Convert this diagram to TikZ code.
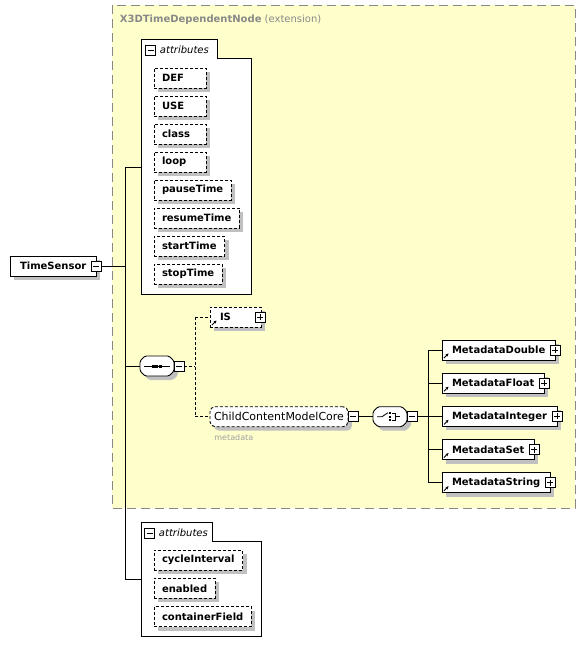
\documentclass[tikz,border=0pt]{standalone}
\usepackage{fontspec}
\setmainfont{DejaVu Sans}
\usetikzlibrary{positioning,shadows,arrows.meta}
\definecolor{extfill}{RGB}{255,255,204}
\definecolor{extline}{RGB}{136,136,136}
\definecolor{shade}{RGB}{192,192,192}
\definecolor{notegray}{RGB}{160,160,160}
% octagon outline round a model group node
\newcommand{\drawmodel}[1]{\draw[draw=black,fill=white,shadowed,rounded corners=1.5pt]
  ([xshift=5pt]#1.north west) -- ([xshift=-5pt]#1.north east) -- ([yshift=-5pt]#1.north east)
  -- ([yshift=5pt]#1.south east) -- ([xshift=-5pt]#1.south east) -- ([xshift=5pt]#1.south west)
  -- ([yshift=5pt]#1.south west) -- ([yshift=-5pt]#1.north west) -- cycle;}

\begin{document}
\begin{tikzpicture}[x=1pt,y=-1pt,line width=0.9pt,
  shadowed/.style={drop shadow={shadow xshift=4pt,shadow yshift=-4pt,fill=shade,opacity=1}},
  optl/.style={dash pattern=on 3pt off 2pt},
  elem/.style={draw=black,fill=white,shadowed,minimum height=20pt,inner ysep=0pt,inner xsep=10pt,outer sep=0pt,anchor=north west,font=\bfseries},
  refelem/.style={elem,path picture={\draw[solid,line width=0.9pt,-{Stealth[length=3pt,width=3pt]}] ([xshift=2pt,yshift=2pt]path picture bounding box.south west) -- ++(4.5pt,4.5pt);}},
  attr/.style={elem,optl,inner xsep=8pt},
  group/.style={draw=black,fill=white,shadowed,optl,rounded corners=5pt,minimum height=20pt,inner ysep=0pt,inner xsep=4pt,outer sep=0pt,anchor=north west,font=\fontsize{11}{13}\selectfont},
  model/.style={minimum width=34pt,minimum height=20pt,inner sep=0pt,outer sep=0pt},
  xbox/.style={draw=black,fill=white,solid,minimum size=10pt,inner sep=0pt,outer sep=0pt,line width=0.8pt},
  minusbox/.style={xbox,path picture={\draw ([xshift=2pt]path picture bounding box.west) -- ([xshift=-2pt]path picture bounding box.east);}},
  plusbox/.style={xbox,path picture={\draw ([xshift=2pt]path picture bounding box.west) -- ([xshift=-2pt]path picture bounding box.east);
    \draw ([yshift=-2pt]path picture bounding box.north) -- ([yshift=2pt]path picture bounding box.south);}},
  extbox/.style={draw=extline,fill=extfill,dash pattern=on 9pt off 5pt}]
  \useasboundingbox (0,0) rectangle (586,656);

  % extension
  \draw[extbox] (112,5) rectangle (575,508);
  \node[anchor=west,inner sep=0pt,text=extline] (ttl) at (119.5,20) {\textbf{X3DTimeDependentNode} (extension)};

  % attributes of the base type
  \draw[fill=white] (141,39) -- (217,39) -- (217,58) -- (251,58) -- (251,294) -- (141,294) -- cycle;
  \node[minusbox] (att1x) at (150.5,50.5) {};
  \node[anchor=west,inner sep=0pt,font=\itshape] (att1t) at (159.5,50) {attributes};
  \node[attr,text width=36pt,align=left] (def) at (154,68) {DEF};
  \node[attr,text width=36pt,align=left,below=8pt of def.south west,anchor=north west] (use) {USE};
  \node[attr,text width=36pt,align=left,below=8pt of use.south west,anchor=north west] (cls) {class};
  \node[attr,text width=36pt,align=left,below=8pt of cls.south west,anchor=north west] (loop) {loop};
  \node[attr,below=8pt of loop.south west,anchor=north west] (pause) {pauseTime};
  \node[attr,below=8pt of pause.south west,anchor=north west] (resume) {resumeTime};
  \node[attr,below=8pt of resume.south west,anchor=north west] (start) {startTime};
  \node[attr,below=8pt of start.south west,anchor=north west] (stop) {stopTime};

  % root element
  \node[elem] (ts) at (10,256) {TimeSensor};
  \node[minusbox] (tsx) at (ts.east) {};
  \coordinate (sp1) at (125,167);
  \coordinate (sp2) at (125,579);
  \coordinate (att1) at (141,167);
  \coordinate (att2) at (141,579);
  \draw (sp1) -- (sp2);
  \draw (tsx) -- (tsx -| sp1);
  \draw (sp1) -- (att1);
  \draw (sp2) -- (att2);

  % sequence
  \node[model] (seq) at (157,366) {};
  \drawmodel{seq}
  \node[minusbox,anchor=west] (seqx) at (seq.east) {};
  \draw (seq.west -| sp1) -- (seq);
  \begin{scope}[shift={(seq.center)}]
    \draw (-13,0) -- (13,0);
    \fill (-5.5,-1.5) rectangle (-2.5,1.5);
    \fill (-2,-1.5) rectangle (1,1.5);
    \fill (1.5,-1.5) rectangle (4.5,1.5);
  \end{scope}

  \node[refelem,optl,text width=31pt,align=left] (is) at (210,307) {IS};
  \node[plusbox] (isx) at ([xshift=-1pt]is.east) {};
  \node[group] (ccm) at (210,406.7) {ChildContentModelCore};
  \node[minusbox,anchor=west] (ccmx) at (ccm.east) {};
  \node[anchor=north west,inner sep=0pt,text=notegray,font=\fontsize{8}{9}\selectfont] (ccml) at (214,434) {metadata};

  \coordinate (sqj) at (195,366);
  \draw[optl] (seqx) -- (sqj);
  \draw[optl] (sqj |- is) -- (sqj |- ccm);
  \draw[optl] (sqj |- is) -- (is);
  \draw[optl] (sqj |- ccm) -- (ccm);

  % choice
  \node[model] (ch) at (390,416.7) {};
  \drawmodel{ch}
  \node[minusbox,anchor=west] (chx) at (ch.east) {};
  \draw (ccmx) -- (ch);
  \begin{scope}[shift={(ch.center)}]
    \draw (-13,0) -- (-8,0) -- (-2,-4);
    \fill (-1.5,-4.5) rectangle (0.5,-2.5);
    \fill (-1.5,-1) rectangle (0.5,1);
    \fill (-1.5,2.5) rectangle (0.5,4.5);
    \draw (1.5,-3.5) -- (5.5,-3.5) -- (5.5,3.5) -- (1.5,3.5);
    \draw (5.5,0) -- (10,0);
  \end{scope}

  \node[refelem] (mdd) at (442,340) {MetadataDouble};
  \node[refelem,below=13.2pt of mdd.south west,anchor=north west] (mdf) {MetadataFloat};
  \node[refelem,below=13.2pt of mdf.south west,anchor=north west] (mdi) {MetadataInteger};
  \node[refelem,below=13.2pt of mdi.south west,anchor=north west] (mdset) {MetadataSet};
  \node[refelem,below=13.2pt of mdset.south west,anchor=north west] (mdstr) {MetadataString};
  \node[plusbox] (mddx) at (mdd.east) {};
  \node[plusbox] (mdfx) at (mdf.east) {};
  \node[plusbox] (mdix) at (mdi.east) {};
  \node[plusbox] (mdsetx) at (mdset.east) {};
  \node[plusbox] (mdstrx) at (mdstr.east) {};

  \coordinate (chj) at (428,416.7);
  \draw (chx) -- (chj);
  \draw (chj |- mdd) -- (chj |- mdstr);
  \draw (chj |- mdd) -- (mdd);
  \draw (chj |- mdf) -- (mdf);
  \draw (chj |- mdi) -- (mdi);
  \draw (chj |- mdset) -- (mdset);
  \draw (chj |- mdstr) -- (mdstr);

  % own attributes
  \draw[fill=white] (141,522) -- (212,522) -- (212,541) -- (261,541) -- (261,636) -- (141,636) -- cycle;
  \node[minusbox] (att2x) at (149.5,533) {};
  \node[anchor=west,inner sep=0pt,font=\itshape] (att2t) at (158.5,532.5) {attributes};
  \node[attr] (cyc) at (154,550) {cycleInterval};
  \node[attr,below=8.3pt of cyc.south west,anchor=north west] (ena) {enabled};
  \node[attr,below=8.3pt of ena.south west,anchor=north west] (cnt) {containerField};
\end{tikzpicture}
\end{document}
